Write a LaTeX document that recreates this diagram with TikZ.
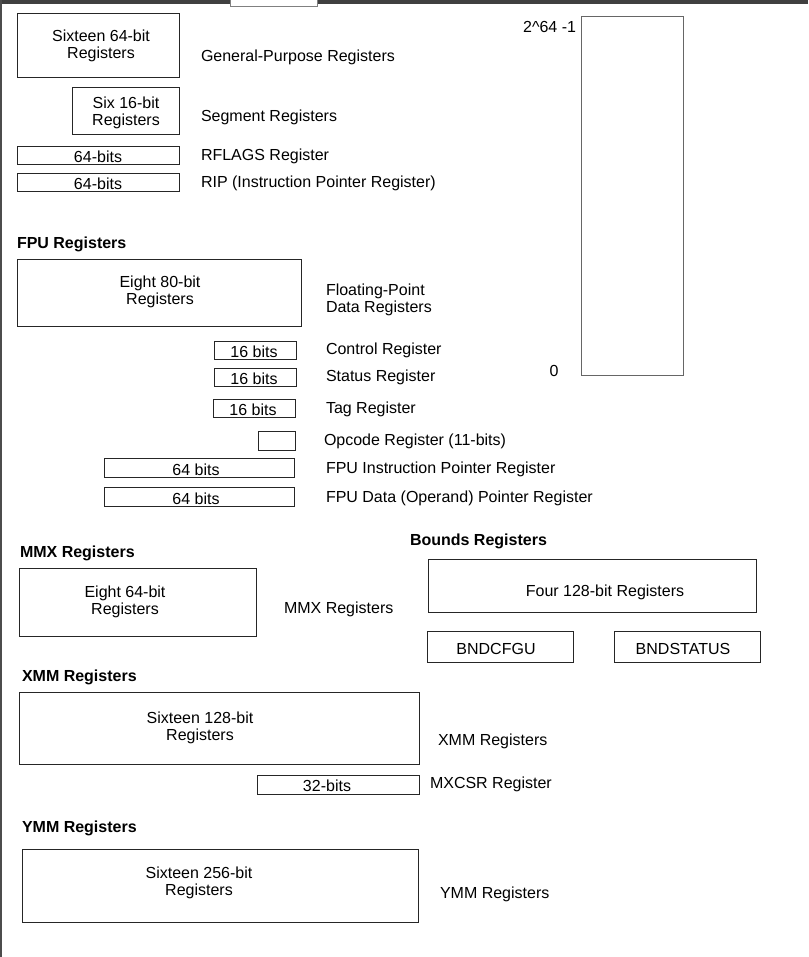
\documentclass[tikz,border=0pt]{standalone}
\usepackage{fontspec}
\setmainfont{Liberation Sans}
\begin{document}
\begin{tikzpicture}[x=1pt,y=-1pt,
  every node/.style={inner sep=0pt,outer sep=0pt,yshift=-1.8pt,font=\fontsize{16}{17}\selectfont},
  regbox/.style={draw=black!85,line width=0.9pt},
  boxtext/.style={align=center},
  lbl/.style={anchor=west,align=left},
  head/.style={anchor=west,font=\fontsize{16}{17}\selectfont\bfseries}]
\useasboundingbox (0,0) rectangle (808,957);
% screenshot edges
\fill[black!75] (0,0) rectangle (808,4);
\fill[white] (230,0) rectangle (317,6);
\draw[black!50,line width=0.8pt] (230,0) -- (230,6) -- (317,6) -- (317,0);
\fill[black!70] (0,0) rectangle (2,957);

% General purpose
\draw[regbox] (17,13) rectangle (179,77);
\node[boxtext] (gpr) at (101,44) {Sixteen 64-bit\\Registers};
\node[lbl] (gprl) at (201,56) {General-Purpose Registers};
\draw[regbox] (72,87) rectangle (179,134);
\node[boxtext] (seg) at (126,111) {Six 16-bit\\Registers};
\node[lbl] (segl) at (201,116) {Segment Registers};
\draw[regbox] (17,146) rectangle (179,164);
\node (rfl) at (98,155) {64-bits};
\node[lbl] (rfll) at (201,155) {RFLAGS Register};
\draw[regbox] (17,173) rectangle (179,191);
\node (rip) at (98,182) {64-bits};
\node[lbl] (ripl) at (201,182) {RIP (Instruction Pointer Register)};

% FPU
\node[head] (fpuh) at (17,243) {FPU Registers};
\draw[regbox] (17,259) rectangle (301,326);
\node[boxtext] (fpd) at (160,290) {Eight 80-bit\\Registers};
\node[lbl] (fpdl) at (326,298) {Floating-Point\\Data Registers};
\draw[regbox] (214,341) rectangle (296,359);
\node (ctl) at (254,350) {16 bits};
\node[lbl] (ctll) at (326,349) {Control Register};
\draw[regbox] (214,368) rectangle (296,386);
\node (sts) at (254,377) {16 bits};
\node[lbl] (stsl) at (326,376) {Status Register};
\draw[regbox] (213,399) rectangle (295,417);
\node (tag) at (253,408) {16 bits};
\node[lbl] (tagl) at (326,408) {Tag Register};
\draw[regbox] (258,431) rectangle (295,450);
\node[lbl] (opcl) at (324,440) {Opcode Register (11-bits)};
\draw[regbox] (104,458) rectangle (294,477);
\node (fip) at (196,468) {64 bits};
\node[lbl] (fipl) at (326,468) {FPU Instruction Pointer Register};
\draw[regbox] (104,487) rectangle (294,506);
\node (fdp) at (196,497) {64 bits};
\node[lbl] (fdpl) at (326,497) {FPU Data (Operand) Pointer Register};

% Memory
\draw[draw=black!60,line width=0.9pt] (581,16) rectangle (683,375);
\node[anchor=east] (top) at (576,25) {2\^{}64 -1};
\node (zero) at (554,369) {0};

% MMX
\node[head] (mmxh) at (20,552) {MMX Registers};
\draw[regbox] (19,568) rectangle (256,636);
\node[boxtext] (mmx) at (125,600) {Eight 64-bit\\Registers};
\node[lbl] (mmxl) at (284,608) {MMX Registers};

% Bounds
\node[head] (bndh) at (410,540) {Bounds Registers};
\draw[regbox] (428,559) rectangle (756,612);
\node (bnd) at (605,591) {Four 128-bit Registers};
\draw[regbox] (427,631) rectangle (573,662);
\node (cfg) at (496,647) {BNDCFGU};
\draw[regbox] (614,631) rectangle (760,662);
\node (bst) at (683,647) {BNDSTATUS};

% XMM
\node[head] (xmmh) at (22,676) {XMM Registers};
\draw[regbox] (19,692) rectangle (419,764);
\node[boxtext] (xmm) at (200,726) {Sixteen 128-bit\\Registers};
\node[lbl] (xmml) at (438,740) {XMM Registers};
\draw[regbox] (257,775) rectangle (419,794);
\node (mxc) at (327,784) {32-bits};
\node[lbl] (mxcl) at (430,783) {MXCSR Register};

% YMM
\node[head] (ymmh) at (22,827) {YMM Registers};
\draw[regbox] (22,849) rectangle (418,922);
\node[boxtext] (ymm) at (199,881) {Sixteen 256-bit\\Registers};
\node[lbl] (ymml) at (440,893) {YMM Registers};
\end{tikzpicture}
\end{document}
